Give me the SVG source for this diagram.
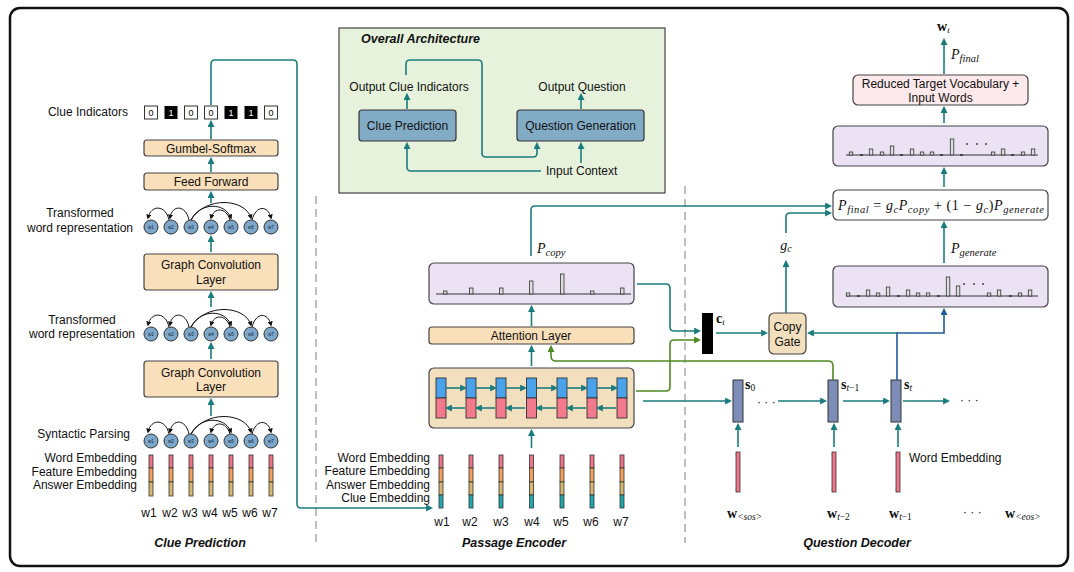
<svg xmlns="http://www.w3.org/2000/svg" width="1074" height="572" viewBox="0 0 1074 572">
<defs>
<style>
.t{font-family:"Liberation Sans",Arial,sans-serif;font-size:12px;fill:#111}
.tb{font-family:"Liberation Sans",Arial,sans-serif;font-size:12.5px;font-weight:bold;font-style:italic;fill:#111}
.m{font-family:"Liberation Serif","DejaVu Serif",serif;font-size:14px;fill:#111}
.i{font-style:italic}
.bd{font-weight:bold}
.peach{fill:#f9dfba;stroke:#444;stroke-width:1.2}
.tan{fill:#f1dfbd;stroke:#444;stroke-width:1.2}
.lav{fill:#ebe3f4;stroke:#444;stroke-width:1.2}
.steel{fill:#82acc6;stroke:#333;stroke-width:1.2}
.ln{fill:none;stroke:#1b7c7f;stroke-width:1.6}
.lg{fill:none;stroke:#4e8a22;stroke-width:1.6}
.lb{fill:none;stroke:#1f5c9b;stroke-width:1.6}
.arc{fill:none;stroke:#111;stroke-width:1}
.bar{fill:#ddd;stroke:#333;stroke-width:0.8}
.nd{fill:#7ca7cb;stroke:#333;stroke-width:1}
.nl{font-family:"Liberation Sans",Arial,sans-serif;font-size:4.5px;fill:#123;text-anchor:middle}
.sep{stroke:#b0b0b0;stroke-width:1.6;stroke-dasharray:8 5}
</style>
<marker id="at" viewBox="0 0 10 10" refX="7" refY="5" markerWidth="7" markerHeight="7" markerUnits="userSpaceOnUse" orient="auto"><path d="M0,0 L10,5 L0,10 z" fill="#1b7c7f"/></marker>
<marker id="ag" viewBox="0 0 10 10" refX="7" refY="5" markerWidth="7" markerHeight="7" markerUnits="userSpaceOnUse" orient="auto"><path d="M0,0 L10,5 L0,10 z" fill="#4e8a22"/></marker>
<marker id="ab" viewBox="0 0 10 10" refX="7" refY="5" markerWidth="7" markerHeight="7" markerUnits="userSpaceOnUse" orient="auto"><path d="M0,0 L10,5 L0,10 z" fill="#1f5c9b"/></marker>
<marker id="ak" viewBox="0 0 10 10" refX="7" refY="5" markerWidth="5" markerHeight="5" markerUnits="userSpaceOnUse" orient="auto"><path d="M0,0 L10,5 L0,10 z" fill="#111"/></marker>
<g id="wrow">
<path class="arc" marker-end="url(#ak)" d="M169,-7 C166,-22 151,-23 148,-9"/>
<path class="arc" marker-end="url(#ak)" d="M189,-7 C186,-22 172,-23 170,-9"/>
<path class="arc" marker-end="url(#ak)" d="M191,-7 C200,-25 225,-25 231,-9"/>
<path class="arc" marker-end="url(#ak)" d="M191,-7 C205,-31 245,-29 251,-9"/>
<path class="arc" marker-end="url(#ak)" d="M230,-7 C226,-20 214,-20 211,-9"/>
<path class="arc" marker-end="url(#ak)" d="M252,-7 C256,-22 268,-22 271,-9"/>
<circle class="nd" cx="151" cy="0" r="7"/><circle class="nd" cx="171" cy="0" r="7"/><circle class="nd" cx="191" cy="0" r="7"/><circle class="nd" cx="211" cy="0" r="7"/><circle class="nd" cx="231" cy="0" r="7"/><circle class="nd" cx="251" cy="0" r="7"/><circle class="nd" cx="271" cy="0" r="7"/>
<text class="nl" x="151" y="1.6">w1</text><text class="nl" x="171" y="1.6">w2</text><text class="nl" x="191" y="1.6">w3</text><text class="nl" x="211" y="1.6">w4</text><text class="nl" x="231" y="1.6">w5</text><text class="nl" x="251" y="1.6">w6</text><text class="nl" x="271" y="1.6">w7</text>
</g>
<g id="emb3" stroke="#333" stroke-width="0.8"><rect x="-2" y="0" width="4" height="13" fill="#ee7487"/><rect x="-2" y="13" width="4" height="14" fill="#f2a15c"/><rect x="-2" y="27" width="4" height="14" fill="#d7b873"/></g>
<g id="emb4" stroke="#333" stroke-width="0.8"><rect x="-2" y="0" width="4" height="13" fill="#ee7487"/><rect x="-2" y="13" width="4" height="14" fill="#f2a15c"/><rect x="-2" y="27" width="4" height="13" fill="#d7b873"/><rect x="-2" y="40" width="4" height="13" fill="#20a9ad"/></g>
<g id="cell" stroke="#333" stroke-width="0.9"><rect x="-5" y="0" width="10" height="20" fill="#4aa3ea"/><rect x="-5" y="20" width="10" height="20" fill="#f27a8c"/></g>
</defs>

<rect x="10" y="8" width="1058" height="558" rx="10" fill="#fff" stroke="#111" stroke-width="2.5"/>
<line class="sep" x1="316" y1="196" x2="316" y2="543"/>
<line class="sep" x1="685" y1="186" x2="685" y2="543"/>

<!-- Overall architecture -->
<g id="overall">
<rect x="339" y="28" width="326" height="165" fill="#e7f2dd" stroke="#444" stroke-width="1.2"/>
<text class="tb" x="361" y="43">Overall Architecture</text>
<text class="t" x="409" y="91" text-anchor="middle">Output Clue Indicators</text>
<text class="t" x="582" y="91" text-anchor="middle">Output Question</text>
<text class="t" x="546" y="175">Input Context</text>
</g>
<g id="clue-pred-box"><rect class="steel" x="359" y="110" width="97" height="31" rx="3"/><text class="t" x="407.5" y="130" text-anchor="middle">Clue Prediction</text></g>
<g id="qgen-box"><rect class="steel" x="517" y="110" width="127" height="31" rx="3"/><text class="t" x="580.5" y="130" text-anchor="middle">Question Generation</text></g>

<!-- Clue prediction column -->
<g id="clue-indicators">
<text class="t" x="128" y="116" text-anchor="end">Clue Indicators</text>
<g font-family="Liberation Sans,Arial,sans-serif" font-size="9" text-anchor="middle">
<rect x="144.5" y="106" width="13" height="13" fill="#fff" stroke="#333"/><text x="151" y="116">0</text>
<rect x="164.5" y="106" width="13" height="13" fill="#000"/><text x="171" y="116" fill="#fff">1</text>
<rect x="184.5" y="106" width="13" height="13" fill="#fff" stroke="#333"/><text x="191" y="116">0</text>
<rect x="204.5" y="106" width="13" height="13" fill="#fff" stroke="#333"/><text x="211" y="116">0</text>
<rect x="224.5" y="106" width="13" height="13" fill="#000"/><text x="231" y="116" fill="#fff">1</text>
<rect x="244.5" y="106" width="13" height="13" fill="#000"/><text x="251" y="116" fill="#fff">1</text>
<rect x="264.5" y="106" width="13" height="13" fill="#fff" stroke="#333"/><text x="271" y="116">0</text>
</g>
</g>
<g id="gumbel"><rect class="peach" x="144" y="140" width="134" height="16" rx="3"/><text class="t" x="211" y="152.5" text-anchor="middle">Gumbel-Softmax</text></g>
<g id="ffn"><rect class="peach" x="144" y="173" width="134" height="17" rx="3"/><text class="t" x="211" y="186" text-anchor="middle">Feed Forward</text></g>
<g id="row1"><text class="t" x="80" y="217" text-anchor="middle">Transformed</text><text class="t" x="80" y="232" text-anchor="middle">word representation</text><use href="#wrow" y="227"/></g>
<g id="gcl1"><rect class="peach" x="144" y="254" width="134" height="36" rx="3"/><text class="t" x="211" y="269" text-anchor="middle">Graph Convolution</text><text class="t" x="211" y="284" text-anchor="middle">Layer</text></g>
<g id="row2"><text class="t" x="82" y="324" text-anchor="middle">Transformed</text><text class="t" x="82" y="338" text-anchor="middle">word representation</text><use href="#wrow" y="334"/></g>
<g id="gcl2"><rect class="peach" x="144" y="361" width="134" height="36" rx="3"/><text class="t" x="211" y="377" text-anchor="middle">Graph Convolution</text><text class="t" x="211" y="391" text-anchor="middle">Layer</text></g>
<g id="row3"><text class="t" x="130" y="438" text-anchor="end">Syntactic Parsing</text><use href="#wrow" y="441"/></g>
<g id="clue-emb">
<text class="t" x="137" y="462" text-anchor="end">Word Embedding</text>
<text class="t" x="137" y="476" text-anchor="end">Feature Embedding</text>
<text class="t" x="137" y="489" text-anchor="end">Answer Embedding</text>
<use href="#emb3" x="151" y="455"/><use href="#emb3" x="171" y="455"/><use href="#emb3" x="191" y="455"/><use href="#emb3" x="211" y="455"/><use href="#emb3" x="231" y="455"/><use href="#emb3" x="251" y="455"/><use href="#emb3" x="271" y="455"/>
<g class="t" text-anchor="middle"><text x="149" y="517">w1</text><text x="170" y="517">w2</text><text x="190" y="517">w3</text><text x="210" y="517">w4</text><text x="230" y="517">w5</text><text x="250" y="517">w6</text><text x="270" y="517">w7</text></g>
<text class="tb" x="200" y="547" text-anchor="middle">Clue Prediction</text>
</g>

<!-- Passage encoder -->
<g id="pcopy-box">
<rect class="lav" x="429" y="263" width="205" height="41" rx="5"/>
<line x1="436" y1="294" x2="631" y2="294" stroke="#333" stroke-width="1"/>
<rect class="bar" x="443.5" y="291" width="3.5" height="3"/><rect class="bar" x="469.5" y="288" width="3.5" height="6"/><rect class="bar" x="499.5" y="288" width="3.5" height="6"/><rect class="bar" x="529.5" y="281" width="3.5" height="13"/><rect class="bar" x="560.5" y="274" width="3.5" height="20"/><rect class="bar" x="590.5" y="291" width="3.5" height="3"/><rect class="bar" x="620.5" y="288" width="3.5" height="6"/>
</g>
<text class="m" x="537" y="253"><tspan class="i">P</tspan><tspan class="i" font-size="10.5" dy="3">copy</tspan></text>
<g id="attention"><rect class="peach" x="429" y="327" width="205" height="17" rx="3"/><text class="t" x="531" y="339.5" text-anchor="middle">Attention Layer</text></g>
<g id="bilstm">
<rect class="tan" x="429" y="368" width="205" height="60" rx="5"/>
<use href="#cell" x="441" y="378"/><use href="#cell" x="471" y="378"/><use href="#cell" x="501" y="378"/><use href="#cell" x="531.5" y="378"/><use href="#cell" x="562" y="378"/><use href="#cell" x="592" y="378"/><use href="#cell" x="622" y="378"/>
<g class="ln" stroke-width="1.4">
<line x1="446" y1="388" x2="465" y2="388" marker-end="url(#at)"/><line x1="476" y1="388" x2="495" y2="388" marker-end="url(#at)"/><line x1="506" y1="388" x2="525" y2="388" marker-end="url(#at)"/><line x1="536.5" y1="388" x2="556" y2="388" marker-end="url(#at)"/><line x1="567" y1="388" x2="586" y2="388" marker-end="url(#at)"/><line x1="597" y1="388" x2="616" y2="388" marker-end="url(#at)"/>
<line x1="465" y1="408" x2="447" y2="408" marker-end="url(#at)"/><line x1="495" y1="408" x2="477" y2="408" marker-end="url(#at)"/><line x1="525" y1="408" x2="507" y2="408" marker-end="url(#at)"/><line x1="556" y1="408" x2="537.5" y2="408" marker-end="url(#at)"/><line x1="586" y1="408" x2="568" y2="408" marker-end="url(#at)"/><line x1="616" y1="408" x2="598" y2="408" marker-end="url(#at)"/>
</g>
</g>
<g id="passage-emb">
<text class="t" x="430" y="462" text-anchor="end">Word Embedding</text>
<text class="t" x="430" y="475" text-anchor="end">Feature Embedding</text>
<text class="t" x="430" y="489" text-anchor="end">Answer Embedding</text>
<text class="t" x="430" y="502" text-anchor="end">Clue Embedding</text>
<use href="#emb4" x="441" y="455"/><use href="#emb4" x="471" y="455"/><use href="#emb4" x="501" y="455"/><use href="#emb4" x="531.5" y="455"/><use href="#emb4" x="562" y="455"/><use href="#emb4" x="592" y="455"/><use href="#emb4" x="622" y="455"/>
<g class="t" text-anchor="middle"><text x="442" y="526">w1</text><text x="470" y="526">w2</text><text x="501" y="526">w3</text><text x="532" y="526">w4</text><text x="561" y="526">w5</text><text x="591" y="526">w6</text><text x="621" y="526">w7</text></g>
<text class="tb" x="514" y="547" text-anchor="middle">Passage Encoder</text>
</g>

<!-- Question decoder -->
<g id="ct"><rect x="702" y="313" width="11" height="41" fill="#000"/><text class="m" x="716" y="323" font-size="12"><tspan class="bd">c</tspan><tspan class="i" font-size="9" dy="2">t</tspan></text></g>
<g id="copy-gate"><rect class="tan" x="769" y="313" width="37" height="41" rx="5"/><text class="t" x="787.5" y="331" text-anchor="middle" font-size="12.5">Copy</text><text class="t" x="787.5" y="346" text-anchor="middle" font-size="12.5">Gate</text></g>
<text class="m" x="786" y="250" text-anchor="middle"><tspan class="i">g</tspan><tspan class="i" font-size="10" dy="2">c</tspan></text>
<g id="s-states" stroke="#333" stroke-width="1">
<rect x="733" y="380" width="10" height="42" fill="#7d8db7"/><rect x="828" y="380" width="10" height="42" fill="#7d8db7"/><rect x="891" y="380" width="10" height="42" fill="#7d8db7"/>
</g>
<g class="m" font-size="12">
<text x="745" y="389"><tspan class="bd">s</tspan><tspan font-size="9.5" dy="2">0</tspan></text>
<text x="841" y="389"><tspan class="bd">s</tspan><tspan class="i" font-size="9.5" dy="2">t</tspan><tspan font-size="9.5">−1</tspan></text>
<text x="904" y="389"><tspan class="bd">s</tspan><tspan class="i" font-size="9.5" dy="2">t</tspan></text>
</g>
<text class="t" x="757" y="406" font-size="11">· · ·</text>
<text class="t" x="960" y="404">· · ·</text>
<g id="dec-emb" stroke="#333" stroke-width="0.8" fill="#ee7487"><rect x="736" y="452" width="4" height="40"/><rect x="832" y="452" width="4" height="40"/><rect x="896" y="452" width="4" height="40"/></g>
<text class="t" x="909" y="462">Word Embedding</text>
<g class="m" font-size="12">
<text x="727" y="518"><tspan class="bd">w</tspan><tspan class="i" font-size="9.5" dy="2">&lt;sos&gt;</tspan></text>
<text x="827" y="518"><tspan class="bd">w</tspan><tspan class="i" font-size="9.5" dy="2">t</tspan><tspan font-size="9.5">−2</tspan></text>
<text x="889" y="518"><tspan class="bd">w</tspan><tspan class="i" font-size="9.5" dy="2">t</tspan><tspan font-size="9.5">−1</tspan></text>
<text x="1005" y="518"><tspan class="bd">w</tspan><tspan class="i" font-size="9.5" dy="2">&lt;eos&gt;</tspan></text>
</g>
<text class="t" x="963" y="516">· · ·</text>
<text class="tb" x="857" y="547" text-anchor="middle">Question Decoder</text>

<g id="pgen-box">
<rect class="lav" x="833" y="266" width="215" height="41" rx="5"/>
<line x1="846" y1="296" x2="1038" y2="296" stroke="#333" stroke-width="1"/>
<g class="bar"><rect x="846.3" y="293" width="3.5" height="3"/><rect x="866.3" y="290" width="3.5" height="6"/><rect x="876.3" y="293" width="3.5" height="3"/><rect x="886.3" y="287" width="3.5" height="9"/><rect x="906.3" y="290" width="3.5" height="6"/><rect x="916.3" y="293" width="3.5" height="3"/><rect x="926.3" y="293" width="3.5" height="3"/><rect x="946.3" y="277" width="3.5" height="19"/><rect x="956.3" y="286" width="3.5" height="10"/><rect x="987.3" y="293" width="3.5" height="3"/><rect x="997.3" y="290" width="3.5" height="6"/><rect x="1018.3" y="293" width="3.5" height="3"/><rect x="1028.3" y="290" width="3.5" height="6"/></g>
<g stroke="#333" stroke-width="1.6"><line x1="857" y1="296" x2="860" y2="296"/><line x1="897" y1="296" x2="900" y2="296"/><line x1="937" y1="296" x2="940" y2="296"/><line x1="1009" y1="296" x2="1012" y2="296"/></g>
<g fill="#333"><circle cx="964" cy="284" r="0.9"/><circle cx="974" cy="284" r="0.9"/><circle cx="983" cy="284" r="0.9"/></g>
</g>
<text class="m" x="951" y="253"><tspan class="i">P</tspan><tspan class="i" font-size="10.5" dy="3">generate</tspan></text>
<g id="pfinal-box">
<rect x="833" y="190" width="215" height="30" rx="5" fill="#fff" stroke="#444" stroke-width="1.2"/>
<text class="m" x="838" y="210" font-size="15" textLength="206" lengthAdjust="spacing"><tspan class="i">P</tspan><tspan class="i" font-size="10.5" dy="3">final</tspan><tspan dy="-3"> = </tspan><tspan class="i">g</tspan><tspan class="i" font-size="10.5" dy="3">c</tspan><tspan class="i" dy="-3">P</tspan><tspan class="i" font-size="10.5" dy="3">copy</tspan><tspan dy="-3"> + (1 − </tspan><tspan class="i">g</tspan><tspan class="i" font-size="10.5" dy="3">c</tspan><tspan dy="-3">)</tspan><tspan class="i">P</tspan><tspan class="i" font-size="10.5" dy="3">generate</tspan></text>
</g>
<g id="vocab-box">
<rect class="lav" x="833" y="126" width="215" height="40" rx="5"/>
<line x1="846" y1="155" x2="1038" y2="155" stroke="#333" stroke-width="1"/>
<g class="bar"><rect x="849.3" y="152" width="3.5" height="3"/><rect x="869.3" y="149" width="3.5" height="6"/><rect x="880.3" y="152" width="3.5" height="3"/><rect x="890.3" y="146" width="3.5" height="9"/><rect x="910.3" y="149" width="3.5" height="6"/><rect x="920.3" y="152" width="3.5" height="3"/><rect x="930.3" y="152" width="3.5" height="3"/><rect x="950.3" y="139" width="3.5" height="16"/><rect x="991.3" y="152" width="3.5" height="3"/><rect x="1001.3" y="149" width="3.5" height="6"/><rect x="1021.3" y="152" width="3.5" height="3"/><rect x="1031.3" y="149" width="3.5" height="6"/></g>
<g stroke="#333" stroke-width="1.6"><line x1="860" y1="155" x2="863" y2="155"/><line x1="900" y1="155" x2="903" y2="155"/><line x1="940" y1="155" x2="943" y2="155"/><line x1="960" y1="155" x2="963" y2="155"/><line x1="1011" y1="155" x2="1014" y2="155"/></g>
<g fill="#333"><circle cx="967" cy="144" r="0.9"/><circle cx="977" cy="144" r="0.9"/><circle cx="986" cy="144" r="0.9"/></g>
</g>
<g id="reduced-box"><rect x="853" y="75" width="175" height="30" rx="5" fill="#fde9eb" stroke="#444" stroke-width="1.2"/><text class="t" x="940.5" y="88" text-anchor="middle">Reduced Target Vocabulary +</text><text class="t" x="940.5" y="102" text-anchor="middle">Input Words</text></g>
<text class="m" x="951" y="59"><tspan class="i">P</tspan><tspan class="i" font-size="10.5" dy="3">final</tspan></text>
<text class="m" x="937" y="31" font-size="13"><tspan class="bd">w</tspan><tspan class="i" font-size="9" dy="2">t</tspan></text>

<!-- Connectors -->
<g id="connectors">
<line class="ln" x1="407" y1="109" x2="407" y2="95" marker-end="url(#at)"/>
<line class="ln" x1="581" y1="109" x2="581" y2="95" marker-end="url(#at)"/>
<path class="ln" d="M406,75 V64 Q406,60 410,60 H478 Q482,60 482,64 V153 Q482,157 486,157 H533 Q537,157 537,153 V144" marker-end="url(#at)"/>
<path class="ln" d="M541,171 H411 Q407,171 407,167 V144" marker-end="url(#at)"/>
<line class="ln" x1="581" y1="163" x2="581" y2="144" marker-end="url(#at)"/>
<line class="ln" x1="211" y1="139" x2="211" y2="122" marker-end="url(#at)"/>
<line class="ln" x1="211" y1="172" x2="211" y2="159" marker-end="url(#at)"/>
<line class="ln" x1="211" y1="203" x2="211" y2="193" marker-end="url(#at)"/>
<line class="ln" x1="211" y1="252" x2="211" y2="237" marker-end="url(#at)"/>
<line class="ln" x1="211" y1="307" x2="211" y2="293" marker-end="url(#at)"/>
<line class="ln" x1="211" y1="359" x2="211" y2="344" marker-end="url(#at)"/>
<line class="ln" x1="211" y1="416" x2="211" y2="400" marker-end="url(#at)"/>
<path class="ln" d="M211,105 V64 Q211,60 215,60 H293 Q297,60 297,64 V504 Q297,508 301,508 H431" marker-end="url(#at)"/>
<line class="ln" x1="531.5" y1="448" x2="531.5" y2="431" marker-end="url(#at)"/>
<line class="ln" x1="531.5" y1="366" x2="531.5" y2="347" marker-end="url(#at)"/>
<line class="ln" x1="531.5" y1="326" x2="531.5" y2="307" marker-end="url(#at)"/>
<path class="ln" d="M531,256 V210 Q531,206 535,206 H830" marker-end="url(#at)"/>
<path class="ln" d="M637,284 H666 Q670,284 670,288 V327 Q670,331 674,331 H699" marker-end="url(#at)"/>
<path class="lg" d="M636,391 H666 Q670,391 670,387 V344 Q670,340 674,340 H699" marker-end="url(#ag)"/>
<path class="lg" d="M833,380 V366 Q833,361 828,361 H556 Q551,361 551,356 V347" marker-end="url(#ag)"/>
<line class="ln" x1="643" y1="401" x2="730" y2="401" marker-end="url(#at)"/>
<line class="ln" x1="716" y1="333" x2="766" y2="333" marker-end="url(#at)"/>
<line class="ln" x1="786" y1="313" x2="786" y2="262" marker-end="url(#at)"/>
<path class="ln" d="M786,233 V217 Q786,213 790,213 H830" marker-end="url(#at)"/>
<line class="ln" x1="897" y1="333" x2="809" y2="333" marker-end="url(#at)"/>
<path class="lb" d="M897,380 V333 H944 V310" marker-end="url(#ab)"/>
<line class="ln" x1="778" y1="401" x2="825" y2="401" marker-end="url(#at)"/>
<line class="ln" x1="843" y1="401" x2="888" y2="401" marker-end="url(#at)"/>
<line class="ln" x1="903" y1="401" x2="948" y2="401" marker-end="url(#at)"/>
<line class="ln" x1="738" y1="447" x2="738" y2="425" marker-end="url(#at)"/>
<line class="ln" x1="834" y1="447" x2="834" y2="425" marker-end="url(#at)"/>
<line class="ln" x1="898" y1="447" x2="898" y2="425" marker-end="url(#at)"/>
<line class="ln" x1="944" y1="263" x2="944" y2="223" marker-end="url(#at)"/>
<line class="ln" x1="944" y1="187" x2="944" y2="169" marker-end="url(#at)"/>
<line class="ln" x1="944" y1="123" x2="944" y2="108" marker-end="url(#at)"/>
<line class="ln" x1="944" y1="74" x2="944" y2="40" marker-end="url(#at)"/>
</g>
</svg>
